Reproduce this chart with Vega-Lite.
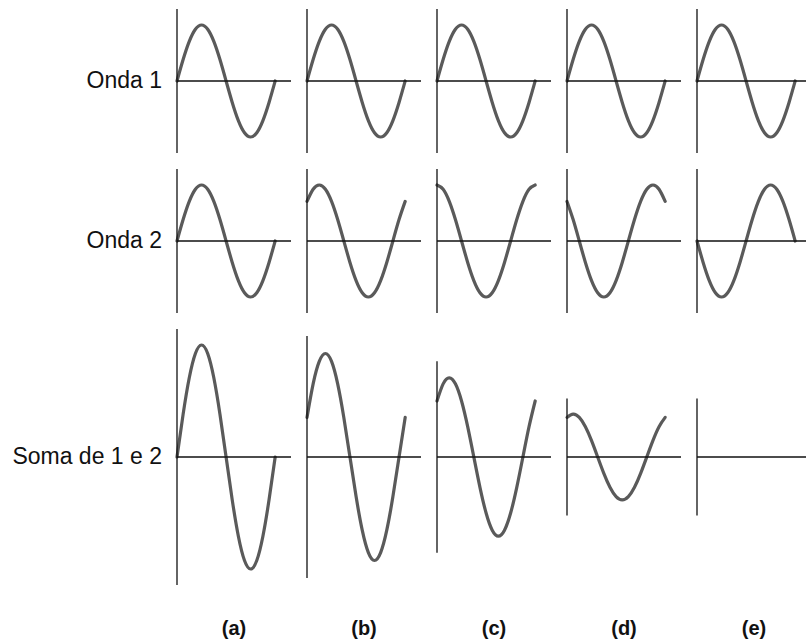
{
  "$schema": "https://vega.github.io/schema/vega-lite/v6.json",
  "background": "white",
  "padding": {"top": 8, "left": 12, "right": 0, "bottom": 0},
  "datasets": {
    "ondas": [
      {"r":"Onda 1","p":"(a)","k":"w","x":0,"y":0},{"r":"Onda 1","p":"(a)","k":"w","x":22.5,"y":0.3827},{"r":"Onda 1","p":"(a)","k":"w","x":45,"y":0.7071},{"r":"Onda 1","p":"(a)","k":"w","x":67.5,"y":0.9239},{"r":"Onda 1","p":"(a)","k":"w","x":90,"y":1},{"r":"Onda 1","p":"(a)","k":"w","x":112.5,"y":0.9239},{"r":"Onda 1","p":"(a)","k":"w","x":135,"y":0.7071},{"r":"Onda 1","p":"(a)","k":"w","x":157.5,"y":0.3827},{"r":"Onda 1","p":"(a)","k":"w","x":180,"y":0},{"r":"Onda 1","p":"(a)","k":"w","x":202.5,"y":-0.3827},{"r":"Onda 1","p":"(a)","k":"w","x":225,"y":-0.7071},{"r":"Onda 1","p":"(a)","k":"w","x":247.5,"y":-0.9239},{"r":"Onda 1","p":"(a)","k":"w","x":270,"y":-1},{"r":"Onda 1","p":"(a)","k":"w","x":292.5,"y":-0.9239},{"r":"Onda 1","p":"(a)","k":"w","x":315,"y":-0.7071},{"r":"Onda 1","p":"(a)","k":"w","x":337.5,"y":-0.3827},{"r":"Onda 1","p":"(a)","k":"w","x":360,"y":0},
      {"r":"Onda 1","p":"(b)","k":"w","x":0,"y":0},{"r":"Onda 1","p":"(b)","k":"w","x":22.5,"y":0.3827},{"r":"Onda 1","p":"(b)","k":"w","x":45,"y":0.7071},{"r":"Onda 1","p":"(b)","k":"w","x":67.5,"y":0.9239},{"r":"Onda 1","p":"(b)","k":"w","x":90,"y":1},{"r":"Onda 1","p":"(b)","k":"w","x":112.5,"y":0.9239},{"r":"Onda 1","p":"(b)","k":"w","x":135,"y":0.7071},{"r":"Onda 1","p":"(b)","k":"w","x":157.5,"y":0.3827},{"r":"Onda 1","p":"(b)","k":"w","x":180,"y":0},{"r":"Onda 1","p":"(b)","k":"w","x":202.5,"y":-0.3827},{"r":"Onda 1","p":"(b)","k":"w","x":225,"y":-0.7071},{"r":"Onda 1","p":"(b)","k":"w","x":247.5,"y":-0.9239},{"r":"Onda 1","p":"(b)","k":"w","x":270,"y":-1},{"r":"Onda 1","p":"(b)","k":"w","x":292.5,"y":-0.9239},{"r":"Onda 1","p":"(b)","k":"w","x":315,"y":-0.7071},{"r":"Onda 1","p":"(b)","k":"w","x":337.5,"y":-0.3827},{"r":"Onda 1","p":"(b)","k":"w","x":360,"y":0},
      {"r":"Onda 1","p":"(c)","k":"w","x":0,"y":0},{"r":"Onda 1","p":"(c)","k":"w","x":22.5,"y":0.3827},{"r":"Onda 1","p":"(c)","k":"w","x":45,"y":0.7071},{"r":"Onda 1","p":"(c)","k":"w","x":67.5,"y":0.9239},{"r":"Onda 1","p":"(c)","k":"w","x":90,"y":1},{"r":"Onda 1","p":"(c)","k":"w","x":112.5,"y":0.9239},{"r":"Onda 1","p":"(c)","k":"w","x":135,"y":0.7071},{"r":"Onda 1","p":"(c)","k":"w","x":157.5,"y":0.3827},{"r":"Onda 1","p":"(c)","k":"w","x":180,"y":0},{"r":"Onda 1","p":"(c)","k":"w","x":202.5,"y":-0.3827},{"r":"Onda 1","p":"(c)","k":"w","x":225,"y":-0.7071},{"r":"Onda 1","p":"(c)","k":"w","x":247.5,"y":-0.9239},{"r":"Onda 1","p":"(c)","k":"w","x":270,"y":-1},{"r":"Onda 1","p":"(c)","k":"w","x":292.5,"y":-0.9239},{"r":"Onda 1","p":"(c)","k":"w","x":315,"y":-0.7071},{"r":"Onda 1","p":"(c)","k":"w","x":337.5,"y":-0.3827},{"r":"Onda 1","p":"(c)","k":"w","x":360,"y":0},
      {"r":"Onda 1","p":"(d)","k":"w","x":0,"y":0},{"r":"Onda 1","p":"(d)","k":"w","x":22.5,"y":0.3827},{"r":"Onda 1","p":"(d)","k":"w","x":45,"y":0.7071},{"r":"Onda 1","p":"(d)","k":"w","x":67.5,"y":0.9239},{"r":"Onda 1","p":"(d)","k":"w","x":90,"y":1},{"r":"Onda 1","p":"(d)","k":"w","x":112.5,"y":0.9239},{"r":"Onda 1","p":"(d)","k":"w","x":135,"y":0.7071},{"r":"Onda 1","p":"(d)","k":"w","x":157.5,"y":0.3827},{"r":"Onda 1","p":"(d)","k":"w","x":180,"y":0},{"r":"Onda 1","p":"(d)","k":"w","x":202.5,"y":-0.3827},{"r":"Onda 1","p":"(d)","k":"w","x":225,"y":-0.7071},{"r":"Onda 1","p":"(d)","k":"w","x":247.5,"y":-0.9239},{"r":"Onda 1","p":"(d)","k":"w","x":270,"y":-1},{"r":"Onda 1","p":"(d)","k":"w","x":292.5,"y":-0.9239},{"r":"Onda 1","p":"(d)","k":"w","x":315,"y":-0.7071},{"r":"Onda 1","p":"(d)","k":"w","x":337.5,"y":-0.3827},{"r":"Onda 1","p":"(d)","k":"w","x":360,"y":0},
      {"r":"Onda 1","p":"(e)","k":"w","x":0,"y":0},{"r":"Onda 1","p":"(e)","k":"w","x":22.5,"y":0.3827},{"r":"Onda 1","p":"(e)","k":"w","x":45,"y":0.7071},{"r":"Onda 1","p":"(e)","k":"w","x":67.5,"y":0.9239},{"r":"Onda 1","p":"(e)","k":"w","x":90,"y":1},{"r":"Onda 1","p":"(e)","k":"w","x":112.5,"y":0.9239},{"r":"Onda 1","p":"(e)","k":"w","x":135,"y":0.7071},{"r":"Onda 1","p":"(e)","k":"w","x":157.5,"y":0.3827},{"r":"Onda 1","p":"(e)","k":"w","x":180,"y":0},{"r":"Onda 1","p":"(e)","k":"w","x":202.5,"y":-0.3827},{"r":"Onda 1","p":"(e)","k":"w","x":225,"y":-0.7071},{"r":"Onda 1","p":"(e)","k":"w","x":247.5,"y":-0.9239},{"r":"Onda 1","p":"(e)","k":"w","x":270,"y":-1},{"r":"Onda 1","p":"(e)","k":"w","x":292.5,"y":-0.9239},{"r":"Onda 1","p":"(e)","k":"w","x":315,"y":-0.7071},{"r":"Onda 1","p":"(e)","k":"w","x":337.5,"y":-0.3827},{"r":"Onda 1","p":"(e)","k":"w","x":360,"y":0},

      {"r":"Onda 2","p":"(a)","k":"w","x":0,"y":0},{"r":"Onda 2","p":"(a)","k":"w","x":22.5,"y":0.3827},{"r":"Onda 2","p":"(a)","k":"w","x":45,"y":0.7071},{"r":"Onda 2","p":"(a)","k":"w","x":67.5,"y":0.9239},{"r":"Onda 2","p":"(a)","k":"w","x":90,"y":1},{"r":"Onda 2","p":"(a)","k":"w","x":112.5,"y":0.9239},{"r":"Onda 2","p":"(a)","k":"w","x":135,"y":0.7071},{"r":"Onda 2","p":"(a)","k":"w","x":157.5,"y":0.3827},{"r":"Onda 2","p":"(a)","k":"w","x":180,"y":0},{"r":"Onda 2","p":"(a)","k":"w","x":202.5,"y":-0.3827},{"r":"Onda 2","p":"(a)","k":"w","x":225,"y":-0.7071},{"r":"Onda 2","p":"(a)","k":"w","x":247.5,"y":-0.9239},{"r":"Onda 2","p":"(a)","k":"w","x":270,"y":-1},{"r":"Onda 2","p":"(a)","k":"w","x":292.5,"y":-0.9239},{"r":"Onda 2","p":"(a)","k":"w","x":315,"y":-0.7071},{"r":"Onda 2","p":"(a)","k":"w","x":337.5,"y":-0.3827},{"r":"Onda 2","p":"(a)","k":"w","x":360,"y":0},
      {"r":"Onda 2","p":"(b)","k":"w","x":0,"y":0.7071},{"r":"Onda 2","p":"(b)","k":"w","x":22.5,"y":0.9239},{"r":"Onda 2","p":"(b)","k":"w","x":45,"y":1},{"r":"Onda 2","p":"(b)","k":"w","x":67.5,"y":0.9239},{"r":"Onda 2","p":"(b)","k":"w","x":90,"y":0.7071},{"r":"Onda 2","p":"(b)","k":"w","x":112.5,"y":0.3827},{"r":"Onda 2","p":"(b)","k":"w","x":135,"y":0},{"r":"Onda 2","p":"(b)","k":"w","x":157.5,"y":-0.3827},{"r":"Onda 2","p":"(b)","k":"w","x":180,"y":-0.7071},{"r":"Onda 2","p":"(b)","k":"w","x":202.5,"y":-0.9239},{"r":"Onda 2","p":"(b)","k":"w","x":225,"y":-1},{"r":"Onda 2","p":"(b)","k":"w","x":247.5,"y":-0.9239},{"r":"Onda 2","p":"(b)","k":"w","x":270,"y":-0.7071},{"r":"Onda 2","p":"(b)","k":"w","x":292.5,"y":-0.3827},{"r":"Onda 2","p":"(b)","k":"w","x":315,"y":0},{"r":"Onda 2","p":"(b)","k":"w","x":337.5,"y":0.3827},{"r":"Onda 2","p":"(b)","k":"w","x":360,"y":0.7071},
      {"r":"Onda 2","p":"(c)","k":"w","x":0,"y":1},{"r":"Onda 2","p":"(c)","k":"w","x":22.5,"y":0.9239},{"r":"Onda 2","p":"(c)","k":"w","x":45,"y":0.7071},{"r":"Onda 2","p":"(c)","k":"w","x":67.5,"y":0.3827},{"r":"Onda 2","p":"(c)","k":"w","x":90,"y":0},{"r":"Onda 2","p":"(c)","k":"w","x":112.5,"y":-0.3827},{"r":"Onda 2","p":"(c)","k":"w","x":135,"y":-0.7071},{"r":"Onda 2","p":"(c)","k":"w","x":157.5,"y":-0.9239},{"r":"Onda 2","p":"(c)","k":"w","x":180,"y":-1},{"r":"Onda 2","p":"(c)","k":"w","x":202.5,"y":-0.9239},{"r":"Onda 2","p":"(c)","k":"w","x":225,"y":-0.7071},{"r":"Onda 2","p":"(c)","k":"w","x":247.5,"y":-0.3827},{"r":"Onda 2","p":"(c)","k":"w","x":270,"y":0},{"r":"Onda 2","p":"(c)","k":"w","x":292.5,"y":0.3827},{"r":"Onda 2","p":"(c)","k":"w","x":315,"y":0.7071},{"r":"Onda 2","p":"(c)","k":"w","x":337.5,"y":0.9239},{"r":"Onda 2","p":"(c)","k":"w","x":360,"y":1},
      {"r":"Onda 2","p":"(d)","k":"w","x":0,"y":0.7071},{"r":"Onda 2","p":"(d)","k":"w","x":22.5,"y":0.3827},{"r":"Onda 2","p":"(d)","k":"w","x":45,"y":0},{"r":"Onda 2","p":"(d)","k":"w","x":67.5,"y":-0.3827},{"r":"Onda 2","p":"(d)","k":"w","x":90,"y":-0.7071},{"r":"Onda 2","p":"(d)","k":"w","x":112.5,"y":-0.9239},{"r":"Onda 2","p":"(d)","k":"w","x":135,"y":-1},{"r":"Onda 2","p":"(d)","k":"w","x":157.5,"y":-0.9239},{"r":"Onda 2","p":"(d)","k":"w","x":180,"y":-0.7071},{"r":"Onda 2","p":"(d)","k":"w","x":202.5,"y":-0.3827},{"r":"Onda 2","p":"(d)","k":"w","x":225,"y":0},{"r":"Onda 2","p":"(d)","k":"w","x":247.5,"y":0.3827},{"r":"Onda 2","p":"(d)","k":"w","x":270,"y":0.7071},{"r":"Onda 2","p":"(d)","k":"w","x":292.5,"y":0.9239},{"r":"Onda 2","p":"(d)","k":"w","x":315,"y":1},{"r":"Onda 2","p":"(d)","k":"w","x":337.5,"y":0.9239},{"r":"Onda 2","p":"(d)","k":"w","x":360,"y":0.7071},
      {"r":"Onda 2","p":"(e)","k":"w","x":0,"y":0},{"r":"Onda 2","p":"(e)","k":"w","x":22.5,"y":-0.3827},{"r":"Onda 2","p":"(e)","k":"w","x":45,"y":-0.7071},{"r":"Onda 2","p":"(e)","k":"w","x":67.5,"y":-0.9239},{"r":"Onda 2","p":"(e)","k":"w","x":90,"y":-1},{"r":"Onda 2","p":"(e)","k":"w","x":112.5,"y":-0.9239},{"r":"Onda 2","p":"(e)","k":"w","x":135,"y":-0.7071},{"r":"Onda 2","p":"(e)","k":"w","x":157.5,"y":-0.3827},{"r":"Onda 2","p":"(e)","k":"w","x":180,"y":0},{"r":"Onda 2","p":"(e)","k":"w","x":202.5,"y":0.3827},{"r":"Onda 2","p":"(e)","k":"w","x":225,"y":0.7071},{"r":"Onda 2","p":"(e)","k":"w","x":247.5,"y":0.9239},{"r":"Onda 2","p":"(e)","k":"w","x":270,"y":1},{"r":"Onda 2","p":"(e)","k":"w","x":292.5,"y":0.9239},{"r":"Onda 2","p":"(e)","k":"w","x":315,"y":0.7071},{"r":"Onda 2","p":"(e)","k":"w","x":337.5,"y":0.3827},{"r":"Onda 2","p":"(e)","k":"w","x":360,"y":0},

      {"r":"Soma de 1 e 2","p":"(a)","k":"w","x":0,"y":0},{"r":"Soma de 1 e 2","p":"(a)","k":"w","x":22.5,"y":0.7654},{"r":"Soma de 1 e 2","p":"(a)","k":"w","x":45,"y":1.4142},{"r":"Soma de 1 e 2","p":"(a)","k":"w","x":67.5,"y":1.8478},{"r":"Soma de 1 e 2","p":"(a)","k":"w","x":90,"y":2},{"r":"Soma de 1 e 2","p":"(a)","k":"w","x":112.5,"y":1.8478},{"r":"Soma de 1 e 2","p":"(a)","k":"w","x":135,"y":1.4142},{"r":"Soma de 1 e 2","p":"(a)","k":"w","x":157.5,"y":0.7654},{"r":"Soma de 1 e 2","p":"(a)","k":"w","x":180,"y":0},{"r":"Soma de 1 e 2","p":"(a)","k":"w","x":202.5,"y":-0.7654},{"r":"Soma de 1 e 2","p":"(a)","k":"w","x":225,"y":-1.4142},{"r":"Soma de 1 e 2","p":"(a)","k":"w","x":247.5,"y":-1.8478},{"r":"Soma de 1 e 2","p":"(a)","k":"w","x":270,"y":-2},{"r":"Soma de 1 e 2","p":"(a)","k":"w","x":292.5,"y":-1.8478},{"r":"Soma de 1 e 2","p":"(a)","k":"w","x":315,"y":-1.4142},{"r":"Soma de 1 e 2","p":"(a)","k":"w","x":337.5,"y":-0.7654},{"r":"Soma de 1 e 2","p":"(a)","k":"w","x":360,"y":0},
      {"r":"Soma de 1 e 2","p":"(b)","k":"w","x":0,"y":0.7071},{"r":"Soma de 1 e 2","p":"(b)","k":"w","x":22.5,"y":1.3066},{"r":"Soma de 1 e 2","p":"(b)","k":"w","x":45,"y":1.7071},{"r":"Soma de 1 e 2","p":"(b)","k":"w","x":67.5,"y":1.8478},{"r":"Soma de 1 e 2","p":"(b)","k":"w","x":90,"y":1.7071},{"r":"Soma de 1 e 2","p":"(b)","k":"w","x":112.5,"y":1.3066},{"r":"Soma de 1 e 2","p":"(b)","k":"w","x":135,"y":0.7071},{"r":"Soma de 1 e 2","p":"(b)","k":"w","x":157.5,"y":0},{"r":"Soma de 1 e 2","p":"(b)","k":"w","x":180,"y":-0.7071},{"r":"Soma de 1 e 2","p":"(b)","k":"w","x":202.5,"y":-1.3066},{"r":"Soma de 1 e 2","p":"(b)","k":"w","x":225,"y":-1.7071},{"r":"Soma de 1 e 2","p":"(b)","k":"w","x":247.5,"y":-1.8478},{"r":"Soma de 1 e 2","p":"(b)","k":"w","x":270,"y":-1.7071},{"r":"Soma de 1 e 2","p":"(b)","k":"w","x":292.5,"y":-1.3066},{"r":"Soma de 1 e 2","p":"(b)","k":"w","x":315,"y":-0.7071},{"r":"Soma de 1 e 2","p":"(b)","k":"w","x":337.5,"y":0},{"r":"Soma de 1 e 2","p":"(b)","k":"w","x":360,"y":0.7071},
      {"r":"Soma de 1 e 2","p":"(c)","k":"w","x":0,"y":1},{"r":"Soma de 1 e 2","p":"(c)","k":"w","x":22.5,"y":1.3066},{"r":"Soma de 1 e 2","p":"(c)","k":"w","x":45,"y":1.4142},{"r":"Soma de 1 e 2","p":"(c)","k":"w","x":67.5,"y":1.3066},{"r":"Soma de 1 e 2","p":"(c)","k":"w","x":90,"y":1},{"r":"Soma de 1 e 2","p":"(c)","k":"w","x":112.5,"y":0.5412},{"r":"Soma de 1 e 2","p":"(c)","k":"w","x":135,"y":0},{"r":"Soma de 1 e 2","p":"(c)","k":"w","x":157.5,"y":-0.5412},{"r":"Soma de 1 e 2","p":"(c)","k":"w","x":180,"y":-1},{"r":"Soma de 1 e 2","p":"(c)","k":"w","x":202.5,"y":-1.3066},{"r":"Soma de 1 e 2","p":"(c)","k":"w","x":225,"y":-1.4142},{"r":"Soma de 1 e 2","p":"(c)","k":"w","x":247.5,"y":-1.3066},{"r":"Soma de 1 e 2","p":"(c)","k":"w","x":270,"y":-1},{"r":"Soma de 1 e 2","p":"(c)","k":"w","x":292.5,"y":-0.5412},{"r":"Soma de 1 e 2","p":"(c)","k":"w","x":315,"y":0},{"r":"Soma de 1 e 2","p":"(c)","k":"w","x":337.5,"y":0.5412},{"r":"Soma de 1 e 2","p":"(c)","k":"w","x":360,"y":1},
      {"r":"Soma de 1 e 2","p":"(d)","k":"w","x":0,"y":0.7071},{"r":"Soma de 1 e 2","p":"(d)","k":"w","x":22.5,"y":0.7654},{"r":"Soma de 1 e 2","p":"(d)","k":"w","x":45,"y":0.7071},{"r":"Soma de 1 e 2","p":"(d)","k":"w","x":67.5,"y":0.5412},{"r":"Soma de 1 e 2","p":"(d)","k":"w","x":90,"y":0.2929},{"r":"Soma de 1 e 2","p":"(d)","k":"w","x":112.5,"y":0},{"r":"Soma de 1 e 2","p":"(d)","k":"w","x":135,"y":-0.2929},{"r":"Soma de 1 e 2","p":"(d)","k":"w","x":157.5,"y":-0.5412},{"r":"Soma de 1 e 2","p":"(d)","k":"w","x":180,"y":-0.7071},{"r":"Soma de 1 e 2","p":"(d)","k":"w","x":202.5,"y":-0.7654},{"r":"Soma de 1 e 2","p":"(d)","k":"w","x":225,"y":-0.7071},{"r":"Soma de 1 e 2","p":"(d)","k":"w","x":247.5,"y":-0.5412},{"r":"Soma de 1 e 2","p":"(d)","k":"w","x":270,"y":-0.2929},{"r":"Soma de 1 e 2","p":"(d)","k":"w","x":292.5,"y":0},{"r":"Soma de 1 e 2","p":"(d)","k":"w","x":315,"y":0.2929},{"r":"Soma de 1 e 2","p":"(d)","k":"w","x":337.5,"y":0.5412},{"r":"Soma de 1 e 2","p":"(d)","k":"w","x":360,"y":0.7071},

      {"r":"Onda 1","p":"(a)","k":"a","lo":-1.2857,"hi":1.2857},{"r":"Onda 1","p":"(b)","k":"a","lo":-1.2857,"hi":1.2857},{"r":"Onda 1","p":"(c)","k":"a","lo":-1.2857,"hi":1.2857},{"r":"Onda 1","p":"(d)","k":"a","lo":-1.2857,"hi":1.2857},{"r":"Onda 1","p":"(e)","k":"a","lo":-1.2857,"hi":1.2857},
      {"r":"Onda 2","p":"(a)","k":"a","lo":-1.2857,"hi":1.2857},{"r":"Onda 2","p":"(b)","k":"a","lo":-1.2857,"hi":1.2857},{"r":"Onda 2","p":"(c)","k":"a","lo":-1.2857,"hi":1.2857},{"r":"Onda 2","p":"(d)","k":"a","lo":-1.2857,"hi":1.2857},{"r":"Onda 2","p":"(e)","k":"a","lo":-1.2857,"hi":1.2857},
      {"r":"Soma de 1 e 2","p":"(a)","k":"a","lo":-2.2857,"hi":2.2857},{"r":"Soma de 1 e 2","p":"(b)","k":"a","lo":-2.16,"hi":2.16},{"r":"Soma de 1 e 2","p":"(c)","k":"a","lo":-1.71,"hi":1.71},{"r":"Soma de 1 e 2","p":"(d)","k":"a","lo":-1.045,"hi":1.045},{"r":"Soma de 1 e 2","p":"(e)","k":"a","lo":-1.045,"hi":1.045}
    ]
  },
  "spacing": 14,
  "resolve": {"scale": {"x": "independent", "y": "independent"}},
  "vconcat": [
    {
      "data": {"name": "ondas"},
      "transform": [{"filter": "datum.r === 'Onda 1'"}],
      "bounds": "flush",
      "facet": {
        "row": {"field": "r", "type": "nominal", "header": {"title": null, "labelAngle": 0, "labelAlign": "left", "labelOrient": "left", "labelFontSize": 23, "labelFont": "Liberation Sans", "labelColor": "#111111", "labelPadding": 15}},
        "column": {"field": "p", "type": "nominal", "header": null}
      },
      "spacing": {"column": 16, "row": 0},
      "spec": {
        "width": 114,
        "height": 144,
        "layer": [
          {"transform": [{"filter": "datum.k === 'w'"}], "mark": {"type": "line", "interpolate": "natural", "color": "#5a5a5a", "strokeWidth": 3.2, "strokeCap": "round"},
           "encoding": {"x": {"field": "x", "type": "quantitative", "scale": {"domain": [0, 418], "nice": false, "zero": false}, "axis": null},
                        "y": {"field": "y", "type": "quantitative", "scale": {"domain": [-1.2857, 1.2857], "nice": false}, "axis": null}}},
          {"transform": [{"filter": "datum.k === 'a'"}], "mark": {"type": "rule", "color": "#111111", "strokeWidth": 1.3}, "encoding": {"y": {"datum": 0}}},
          {"transform": [{"filter": "datum.k === 'a'"}], "mark": {"type": "rule", "color": "#111111", "strokeWidth": 1.3}, "encoding": {"x": {"datum": 0}, "y": {"field": "lo", "type": "quantitative"}, "y2": {"field": "hi"}}}
        ]
      }
    },
    {
      "data": {"name": "ondas"},
      "transform": [{"filter": "datum.r === 'Onda 2'"}],
      "bounds": "flush",
      "facet": {
        "row": {"field": "r", "type": "nominal", "header": {"title": null, "labelAngle": 0, "labelAlign": "left", "labelOrient": "left", "labelFontSize": 23, "labelFont": "Liberation Sans", "labelColor": "#111111", "labelPadding": 15}},
        "column": {"field": "p", "type": "nominal", "header": null}
      },
      "spacing": {"column": 16, "row": 0},
      "spec": {
        "width": 114,
        "height": 144,
        "layer": [
          {"transform": [{"filter": "datum.k === 'w'"}], "mark": {"type": "line", "interpolate": "natural", "color": "#5a5a5a", "strokeWidth": 3.2, "strokeCap": "round"},
           "encoding": {"x": {"field": "x", "type": "quantitative", "scale": {"domain": [0, 418], "nice": false, "zero": false}, "axis": null},
                        "y": {"field": "y", "type": "quantitative", "scale": {"domain": [-1.2857, 1.2857], "nice": false}, "axis": null}}},
          {"transform": [{"filter": "datum.k === 'a'"}], "mark": {"type": "rule", "color": "#111111", "strokeWidth": 1.3}, "encoding": {"y": {"datum": 0}}},
          {"transform": [{"filter": "datum.k === 'a'"}], "mark": {"type": "rule", "color": "#111111", "strokeWidth": 1.3}, "encoding": {"x": {"datum": 0}, "y": {"field": "lo", "type": "quantitative"}, "y2": {"field": "hi"}}}
        ]
      }
    },
    {
      "data": {"name": "ondas"},
      "transform": [{"filter": "datum.r === 'Soma de 1 e 2'"}],
      "bounds": "flush",
      "facet": {
        "row": {"field": "r", "type": "nominal", "header": {"title": null, "labelAngle": 0, "labelAlign": "left", "labelOrient": "left", "labelFontSize": 23, "labelFont": "Liberation Sans", "labelColor": "#111111", "labelPadding": 15}},
        "column": {"field": "p", "type": "nominal", "header": {"title": null, "labelOrient": "bottom", "labelFontSize": 20, "labelFontWeight": "bold", "labelFont": "Liberation Sans", "labelColor": "#111111", "labelPadding": 34}}
      },
      "spacing": {"column": 16, "row": 0},
      "spec": {
        "width": 114,
        "height": 256,
        "layer": [
          {"transform": [{"filter": "datum.k === 'w'"}], "mark": {"type": "line", "interpolate": "natural", "color": "#5a5a5a", "strokeWidth": 3.2, "strokeCap": "round"},
           "encoding": {"x": {"field": "x", "type": "quantitative", "scale": {"domain": [0, 418], "nice": false, "zero": false}, "axis": null},
                        "y": {"field": "y", "type": "quantitative", "scale": {"domain": [-2.2857, 2.2857], "nice": false}, "axis": null}}},
          {"transform": [{"filter": "datum.k === 'a'"}], "mark": {"type": "rule", "color": "#111111", "strokeWidth": 1.3}, "encoding": {"y": {"datum": 0}}},
          {"transform": [{"filter": "datum.k === 'a'"}], "mark": {"type": "rule", "color": "#111111", "strokeWidth": 1.3}, "encoding": {"x": {"datum": 0}, "y": {"field": "lo", "type": "quantitative"}, "y2": {"field": "hi"}}}
        ]
      }
    }
  ],
  "config": {"view": {"stroke": null}, "font": "Liberation Sans"}
}
